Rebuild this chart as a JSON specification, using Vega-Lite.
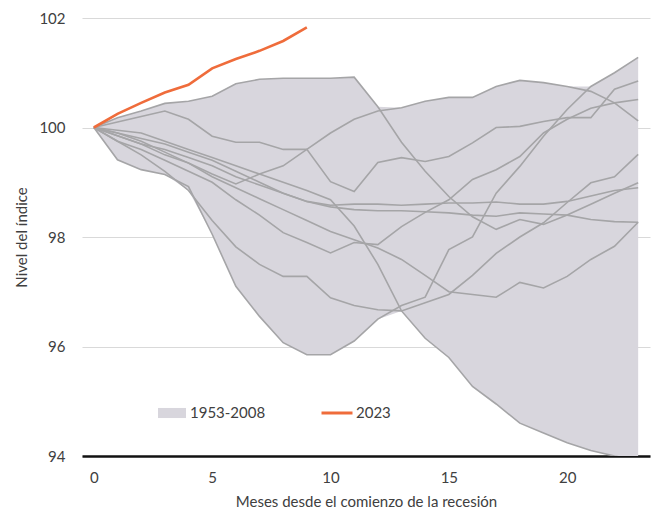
{
  "$schema": "https://vega.github.io/schema/vega-lite/v6.json",
  "width": 568,
  "height": 438,
  "autosize": {"type": "none"},
  "padding": {"left": 82, "top": 18, "right": 6, "bottom": 54},
  "background": "#ffffff",
  "config": {
    "view": {"stroke": null},
    "font": "Lato",
    "axis": {"labelFont": "Lato", "titleFont": "Lato", "titleFontWeight": "normal", "labelColor": "#404040", "titleColor": "#404040"},
    "legend": {"labelFont": "Lato", "labelFontSize": 15, "labelColor": "#404040", "padding": 0}
  },
  "datasets": {
    "hist": [
      {"serie":"L1","mes":0,"valor":100},{"serie":"L1","mes":1,"valor":100.18},{"serie":"L1","mes":2,"valor":100.3},{"serie":"L1","mes":3,"valor":100.44},{"serie":"L1","mes":4,"valor":100.48},{"serie":"L1","mes":5,"valor":100.57},{"serie":"L1","mes":6,"valor":100.8},{"serie":"L1","mes":7,"valor":100.88},{"serie":"L1","mes":8,"valor":100.9},{"serie":"L1","mes":9,"valor":100.9},{"serie":"L1","mes":10,"valor":100.9},{"serie":"L1","mes":11,"valor":100.92},{"serie":"L1","mes":12,"valor":100.38},{"serie":"L1","mes":13,"valor":99.73},{"serie":"L1","mes":14,"valor":99.2},{"serie":"L1","mes":15,"valor":98.74},{"serie":"L1","mes":16,"valor":98.37},{"serie":"L1","mes":17,"valor":98.14},{"serie":"L1","mes":18,"valor":98.32},{"serie":"L1","mes":19,"valor":98.23},{"serie":"L1","mes":20,"valor":98.4},{"serie":"L1","mes":21,"valor":98.6},{"serie":"L1","mes":22,"valor":98.8},{"serie":"L1","mes":23,"valor":98.99},
      {"serie":"L2","mes":0,"valor":100},{"serie":"L2","mes":1,"valor":100.1},{"serie":"L2","mes":2,"valor":100.2},{"serie":"L2","mes":3,"valor":100.3},{"serie":"L2","mes":4,"valor":100.15},{"serie":"L2","mes":5,"valor":99.84},{"serie":"L2","mes":6,"valor":99.73},{"serie":"L2","mes":7,"valor":99.73},{"serie":"L2","mes":8,"valor":99.6},{"serie":"L2","mes":9,"valor":99.6},{"serie":"L2","mes":10,"valor":99.01},{"serie":"L2","mes":11,"valor":98.83},{"serie":"L2","mes":12,"valor":99.36},{"serie":"L2","mes":13,"valor":99.45},{"serie":"L2","mes":14,"valor":99.38},{"serie":"L2","mes":15,"valor":99.47},{"serie":"L2","mes":16,"valor":99.72},{"serie":"L2","mes":17,"valor":100.0},{"serie":"L2","mes":18,"valor":100.02},{"serie":"L2","mes":19,"valor":100.11},{"serie":"L2","mes":20,"valor":100.18},{"serie":"L2","mes":21,"valor":100.18},{"serie":"L2","mes":22,"valor":100.7},{"serie":"L2","mes":23,"valor":100.85},
      {"serie":"L3","mes":0,"valor":100},{"serie":"L3","mes":1,"valor":99.85},{"serie":"L3","mes":2,"valor":99.7},{"serie":"L3","mes":3,"valor":99.5},{"serie":"L3","mes":4,"valor":99.35},{"serie":"L3","mes":5,"valor":99.15},{"serie":"L3","mes":6,"valor":98.97},{"serie":"L3","mes":7,"valor":99.15},{"serie":"L3","mes":8,"valor":99.3},{"serie":"L3","mes":9,"valor":99.6},{"serie":"L3","mes":10,"valor":99.9},{"serie":"L3","mes":11,"valor":100.15},{"serie":"L3","mes":12,"valor":100.3},{"serie":"L3","mes":13,"valor":100.36},{"serie":"L3","mes":14,"valor":100.48},{"serie":"L3","mes":15,"valor":100.55},{"serie":"L3","mes":16,"valor":100.55},{"serie":"L3","mes":17,"valor":100.75},{"serie":"L3","mes":18,"valor":100.86},{"serie":"L3","mes":19,"valor":100.82},{"serie":"L3","mes":20,"valor":100.75},{"serie":"L3","mes":21,"valor":100.66},{"serie":"L3","mes":22,"valor":100.45},{"serie":"L3","mes":23,"valor":100.12},
      {"serie":"L5","mes":0,"valor":100},{"serie":"L5","mes":1,"valor":99.95},{"serie":"L5","mes":2,"valor":99.9},{"serie":"L5","mes":3,"valor":99.75},{"serie":"L5","mes":4,"valor":99.6},{"serie":"L5","mes":5,"valor":99.45},{"serie":"L5","mes":6,"valor":99.3},{"serie":"L5","mes":7,"valor":99.15},{"serie":"L5","mes":8,"valor":99.0},{"serie":"L5","mes":9,"valor":98.85},{"serie":"L5","mes":10,"valor":98.68},{"serie":"L5","mes":11,"valor":98.2},{"serie":"L5","mes":12,"valor":97.5},{"serie":"L5","mes":13,"valor":96.65},{"serie":"L5","mes":14,"valor":96.15},{"serie":"L5","mes":15,"valor":95.8},{"serie":"L5","mes":16,"valor":95.27},{"serie":"L5","mes":17,"valor":94.95},{"serie":"L5","mes":18,"valor":94.6},{"serie":"L5","mes":19,"valor":94.42},{"serie":"L5","mes":20,"valor":94.24},{"serie":"L5","mes":21,"valor":94.1},{"serie":"L5","mes":22,"valor":94.0},{"serie":"L5","mes":23,"valor":93.92},
      {"serie":"L6","mes":0,"valor":100},{"serie":"L6","mes":1,"valor":99.41},{"serie":"L6","mes":2,"valor":99.23},{"serie":"L6","mes":3,"valor":99.14},{"serie":"L6","mes":4,"valor":98.92},{"serie":"L6","mes":5,"valor":98.05},{"serie":"L6","mes":6,"valor":97.1},{"serie":"L6","mes":7,"valor":96.55},{"serie":"L6","mes":8,"valor":96.07},{"serie":"L6","mes":9,"valor":95.85},{"serie":"L6","mes":10,"valor":95.85},{"serie":"L6","mes":11,"valor":96.1},{"serie":"L6","mes":12,"valor":96.5},{"serie":"L6","mes":13,"valor":96.75},{"serie":"L6","mes":14,"valor":96.9},{"serie":"L6","mes":15,"valor":97.77},{"serie":"L6","mes":16,"valor":98.0},{"serie":"L6","mes":17,"valor":98.8},{"serie":"L6","mes":18,"valor":99.29},{"serie":"L6","mes":19,"valor":99.84},{"serie":"L6","mes":20,"valor":100.33},{"serie":"L6","mes":21,"valor":100.75},{"serie":"L6","mes":22,"valor":101.0},{"serie":"L6","mes":23,"valor":101.28},
      {"serie":"L7","mes":0,"valor":100},{"serie":"L7","mes":1,"valor":99.9},{"serie":"L7","mes":2,"valor":99.75},{"serie":"L7","mes":3,"valor":99.55},{"serie":"L7","mes":4,"valor":99.35},{"serie":"L7","mes":5,"valor":99.1},{"serie":"L7","mes":6,"valor":98.9},{"serie":"L7","mes":7,"valor":98.7},{"serie":"L7","mes":8,"valor":98.5},{"serie":"L7","mes":9,"valor":98.3},{"serie":"L7","mes":10,"valor":98.1},{"serie":"L7","mes":11,"valor":97.95},{"serie":"L7","mes":12,"valor":97.8},{"serie":"L7","mes":13,"valor":97.59},{"serie":"L7","mes":14,"valor":97.3},{"serie":"L7","mes":15,"valor":97.0},{"serie":"L7","mes":16,"valor":96.95},{"serie":"L7","mes":17,"valor":96.9},{"serie":"L7","mes":18,"valor":97.17},{"serie":"L7","mes":19,"valor":97.07},{"serie":"L7","mes":20,"valor":97.28},{"serie":"L7","mes":21,"valor":97.59},{"serie":"L7","mes":22,"valor":97.83},{"serie":"L7","mes":23,"valor":98.27},
      {"serie":"L8","mes":0,"valor":100},{"serie":"L8","mes":1,"valor":99.75},{"serie":"L8","mes":2,"valor":99.5},{"serie":"L8","mes":3,"valor":99.2},{"serie":"L8","mes":4,"valor":98.85},{"serie":"L8","mes":5,"valor":98.3},{"serie":"L8","mes":6,"valor":97.82},{"serie":"L8","mes":7,"valor":97.5},{"serie":"L8","mes":8,"valor":97.28},{"serie":"L8","mes":9,"valor":97.28},{"serie":"L8","mes":10,"valor":96.89},{"serie":"L8","mes":11,"valor":96.75},{"serie":"L8","mes":12,"valor":96.67},{"serie":"L8","mes":13,"valor":96.65},{"serie":"L8","mes":14,"valor":96.8},{"serie":"L8","mes":15,"valor":96.95},{"serie":"L8","mes":16,"valor":97.3},{"serie":"L8","mes":17,"valor":97.7},{"serie":"L8","mes":18,"valor":98.0},{"serie":"L8","mes":19,"valor":98.26},{"serie":"L8","mes":20,"valor":98.63},{"serie":"L8","mes":21,"valor":98.99},{"serie":"L8","mes":22,"valor":99.1},{"serie":"L8","mes":23,"valor":99.51},
      {"serie":"L9","mes":0,"valor":100},{"serie":"L9","mes":1,"valor":99.85},{"serie":"L9","mes":2,"valor":99.7},{"serie":"L9","mes":3,"valor":99.6},{"serie":"L9","mes":4,"valor":99.45},{"serie":"L9","mes":5,"valor":99.3},{"serie":"L9","mes":6,"valor":99.1},{"serie":"L9","mes":7,"valor":98.95},{"serie":"L9","mes":8,"valor":98.8},{"serie":"L9","mes":9,"valor":98.65},{"serie":"L9","mes":10,"valor":98.58},{"serie":"L9","mes":11,"valor":98.6},{"serie":"L9","mes":12,"valor":98.6},{"serie":"L9","mes":13,"valor":98.58},{"serie":"L9","mes":14,"valor":98.6},{"serie":"L9","mes":15,"valor":98.62},{"serie":"L9","mes":16,"valor":98.62},{"serie":"L9","mes":17,"valor":98.64},{"serie":"L9","mes":18,"valor":98.6},{"serie":"L9","mes":19,"valor":98.6},{"serie":"L9","mes":20,"valor":98.65},{"serie":"L9","mes":21,"valor":98.75},{"serie":"L9","mes":22,"valor":98.85},{"serie":"L9","mes":23,"valor":98.9},
      {"serie":"L10","mes":0,"valor":100},{"serie":"L10","mes":1,"valor":99.9},{"serie":"L10","mes":2,"valor":99.8},{"serie":"L10","mes":3,"valor":99.7},{"serie":"L10","mes":4,"valor":99.55},{"serie":"L10","mes":5,"valor":99.4},{"serie":"L10","mes":6,"valor":99.2},{"serie":"L10","mes":7,"valor":99.0},{"serie":"L10","mes":8,"valor":98.8},{"serie":"L10","mes":9,"valor":98.65},{"serie":"L10","mes":10,"valor":98.55},{"serie":"L10","mes":11,"valor":98.5},{"serie":"L10","mes":12,"valor":98.48},{"serie":"L10","mes":13,"valor":98.48},{"serie":"L10","mes":14,"valor":98.46},{"serie":"L10","mes":15,"valor":98.44},{"serie":"L10","mes":16,"valor":98.4},{"serie":"L10","mes":17,"valor":98.38},{"serie":"L10","mes":18,"valor":98.44},{"serie":"L10","mes":19,"valor":98.42},{"serie":"L10","mes":20,"valor":98.4},{"serie":"L10","mes":21,"valor":98.32},{"serie":"L10","mes":22,"valor":98.28},{"serie":"L10","mes":23,"valor":98.27},
      {"serie":"L11","mes":0,"valor":100},{"serie":"L11","mes":1,"valor":99.75},{"serie":"L11","mes":2,"valor":99.6},{"serie":"L11","mes":3,"valor":99.4},{"serie":"L11","mes":4,"valor":99.2},{"serie":"L11","mes":5,"valor":99.0},{"serie":"L11","mes":6,"valor":98.68},{"serie":"L11","mes":7,"valor":98.4},{"serie":"L11","mes":8,"valor":98.08},{"serie":"L11","mes":9,"valor":97.9},{"serie":"L11","mes":10,"valor":97.71},{"serie":"L11","mes":11,"valor":97.9},{"serie":"L11","mes":12,"valor":97.86},{"serie":"L11","mes":13,"valor":98.19},{"serie":"L11","mes":14,"valor":98.45},{"serie":"L11","mes":15,"valor":98.68},{"serie":"L11","mes":16,"valor":99.05},{"serie":"L11","mes":17,"valor":99.23},{"serie":"L11","mes":18,"valor":99.47},{"serie":"L11","mes":19,"valor":99.9},{"serie":"L11","mes":20,"valor":100.15},{"serie":"L11","mes":21,"valor":100.35},{"serie":"L11","mes":22,"valor":100.45},{"serie":"L11","mes":23,"valor":100.51}
    ],
    "env": [
      {"mes":0,"lo":100,"hi":100},{"mes":1,"lo":99.41,"hi":100.18},{"mes":2,"lo":99.23,"hi":100.3},{"mes":3,"lo":99.14,"hi":100.44},{"mes":4,"lo":98.85,"hi":100.48},{"mes":5,"lo":98.05,"hi":100.57},{"mes":6,"lo":97.1,"hi":100.8},{"mes":7,"lo":96.55,"hi":100.88},{"mes":8,"lo":96.07,"hi":100.9},{"mes":9,"lo":95.85,"hi":100.9},{"mes":10,"lo":95.85,"hi":100.9},{"mes":11,"lo":96.1,"hi":100.92},{"mes":12,"lo":96.5,"hi":100.38},{"mes":13,"lo":96.65,"hi":100.36},{"mes":14,"lo":96.15,"hi":100.48},{"mes":15,"lo":95.8,"hi":100.55},{"mes":16,"lo":95.27,"hi":100.55},{"mes":17,"lo":94.95,"hi":100.75},{"mes":18,"lo":94.6,"hi":100.86},{"mes":19,"lo":94.42,"hi":100.82},{"mes":20,"lo":94.24,"hi":100.75},{"mes":21,"lo":94.1,"hi":100.75},{"mes":22,"lo":94.0,"hi":101.0},{"mes":23,"lo":93.92,"hi":101.28}
    ],
    "y2023": [
      {"mes":0,"valor":100},{"mes":1,"valor":100.25},{"mes":2,"valor":100.45},{"mes":3,"valor":100.64},{"mes":4,"valor":100.78},{"mes":5,"valor":101.08},{"mes":6,"valor":101.25},{"mes":7,"valor":101.4},{"mes":8,"valor":101.58},{"mes":9,"valor":101.83}
    ]
  },
  "layer": [
    {
      "data": {"name": "env"},
      "mark": {"type": "area", "clip": true},
      "encoding": {
        "x": {"field": "mes", "type": "quantitative", "scale": {"domain": [-0.5, 23.5], "nice": false, "zero": false},
          "axis": {"values": [0,5,10,15,20], "grid": false, "ticks": false, "domainColor": "#111111", "domainWidth": 2.5, "labelFontSize": 15, "labelPadding": 14, "title": "Meses desde el comienzo de la recesión", "titleFontSize": 15, "titlePadding": 9}},
        "y": {"field": "lo", "type": "quantitative", "scale": {"domain": [94, 102], "nice": false, "zero": false},
          "axis": {"values": [94,96,98,100,102], "grid": true, "gridColor": "#d9d9d9", "gridWidth": 1, "domain": false, "ticks": false, "labelFontSize": 15, "labelPadding": 17, "title": "Nivel del índice", "titleFontSize": 15, "titlePadding": 9}},
        "y2": {"field": "hi"},
        "fill": {"datum": "1953-2008", "type": "nominal", "scale": {"range": ["#d8d6dd"]},
          "legend": {"title": null, "orient": "none", "legendX": 76, "legendY": 381, "symbolType": "M-1,-0.36H1V0.36H-1Z", "symbolSize": 784, "symbolStrokeWidth": 0, "symbolOpacity": 1, "labelOffset": 4}}
      }
    },
    {
      "data": {"name": "hist"},
      "mark": {"type": "line", "stroke": "#a5a5a7", "strokeWidth": 1.6, "clip": true},
      "encoding": {
        "x": {"field": "mes", "type": "quantitative"},
        "y": {"field": "valor", "type": "quantitative"},
        "detail": {"field": "serie", "type": "nominal"}
      }
    },
    {
      "data": {"name": "y2023"},
      "mark": {"type": "line", "strokeWidth": 2.6},
      "encoding": {
        "x": {"field": "mes", "type": "quantitative"},
        "y": {"field": "valor", "type": "quantitative"},
        "stroke": {"datum": "2023", "type": "nominal", "scale": {"range": ["#ef6c3b"]},
          "legend": {"title": null, "orient": "none", "legendX": 238, "legendY": 378, "symbolType": "stroke", "symbolSize": 961, "symbolStrokeWidth": 3, "labelOffset": 2}}
      }
    }
  ]
}
